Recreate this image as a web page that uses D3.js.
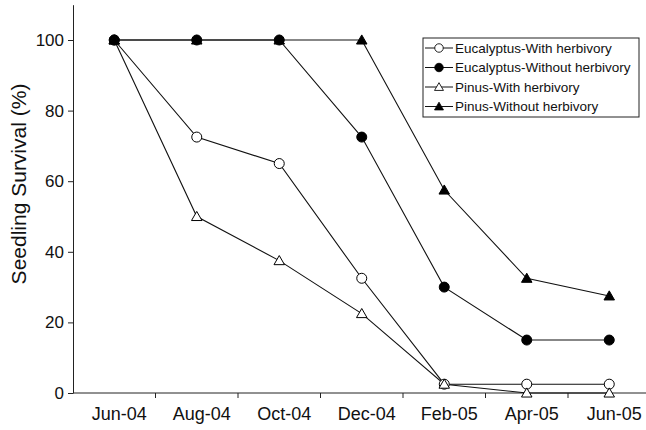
<!DOCTYPE html>
<html>
<head>
<meta charset="utf-8">
<script src="https://cdn.jsdelivr.net/npm/d3@7"></script>
<style>
  body { margin: 0; background: #fff; }
  text { font-family: "Liberation Sans", Arial, sans-serif; fill: #111; }
</style>
</head>
<body>
<div id="chart"></div>
<script>
// data
const months = ['Jun-04', 'Aug-04', 'Oct-04', 'Dec-04', 'Feb-05', 'Apr-05', 'Jun-05'];
const eucWith = [100, 72.5, 65, 32.5, 2.5, 2.5, 2.5];
const eucWithout = [100, 100, 100, 72.5, 30, 15, 15];
const pinWith = [100, 50, 37.5, 22.5, 2.5, 0, 0];
const pinWithout = [100, 100, 100, 100, 57.5, 32.5, 27.5];
const yTicks = [0, 20, 40, 60, 80, 100];

const series = [
    { name: 'Eucalyptus-With herbivory', values: eucWith, shape: 'circle', filled: false },
    { name: 'Eucalyptus-Without herbivory', values: eucWithout, shape: 'circle', filled: true },
    { name: 'Pinus-With herbivory', values: pinWith, shape: 'triangle', filled: false },
    { name: 'Pinus-Without herbivory', values: pinWithout, shape: 'triangle', filled: true }
];

const width = 646, height = 430;
const x0 = 73, yBase = 393, step = 82.5;

const svg = d3.select('#chart').append('svg')
    .attr('width', width)
    .attr('height', height);

const y = d3.scaleLinear().domain([0, 110]).range([yBase, 4.7]);

// one band per month, points at band centres
const x = d3.scaleBand().domain(months).range([x0, x0 + 7 * step]);
const xc = m => x(m) + x.bandwidth() / 2;

// y axis
const yAxis = svg.append('g')
    .attr('transform', `translate(${x0},0)`)
    .call(d3.axisLeft(y).tickValues(yTicks).tickSize(5).tickPadding(4).tickSizeOuter(0));
yAxis.select('.domain').attr('stroke', '#222');
yAxis.selectAll('.tick line').attr('stroke', '#222');
yAxis.selectAll('.tick text').style('font-size', '17px').attr('fill', '#111');

// x axis
const xAxis = svg.append('g')
    .attr('transform', `translate(0,${yBase})`)
    .call(d3.axisBottom(x).tickSize(0).tickPadding(14));
xAxis.select('.domain').remove();
xAxis.selectAll('.tick text')
    .style('font-size', '18px')
    .attr('dx', 5)
    .attr('fill', '#111');
xAxis.append('line')
    .attr('x1', x0).attr('x2', width)
    .attr('stroke', '#222');
xAxis.selectAll('line.tk')
    .data(months.slice(1))
    .enter()
    .append('line')
    .attr('class', 'tk')
    .attr('x1', d => x(d))
    .attr('x2', d => x(d))
    .attr('y1', 0).attr('y2', 5)
    .attr('stroke', '#222');

// y title
svg.append('text')
    .attr('transform', `translate(25.5,184) rotate(-90)`)
    .attr('text-anchor', 'middle')
    .style('font-size', '21px')
    .text('Seedling Survival (%)');

const line = d3.line()
    .x((d, i) => xc(months[i]))
    .y(d => y(d));

const triangle = d3.symbol().type(d3.symbolTriangle).size(48);

function drawMarker(sel, s) {
    if (s.shape === 'circle') {
        sel.append('circle').attr('r', 5);
    } else {
        sel.append('path').attr('d', triangle).attr('transform', 'translate(0,1)');
    }
    sel.selectAll('circle, path')
        .attr('fill', s.filled ? '#000' : '#fff')
        .attr('stroke', '#000')
        .attr('stroke-width', 1);
}

// draw lines
series.forEach(s => {
    svg.append('path')
        .datum(s.values)
        .attr('d', line)
        .attr('fill', 'none')
        .attr('stroke', '#111')
        .attr('stroke-width', 1.1);
});

// draw markers
series.forEach(s => {
    s.values.forEach((v, i) => {
        const g = svg.append('g')
            .attr('transform', `translate(${xc(months[i])},${y(v)})`);
        drawMarker(g, s);
    });
});

// legend
const legend = svg.append('g').attr('transform', 'translate(423,38)');
legend.append('rect')
    .attr('width', 216).attr('height', 79)
    .attr('fill', '#fff')
    .attr('stroke', '#222');

series.forEach((s, i) => {
    const row = legend.append('g').attr('transform', `translate(0,${10 + i * 19.5})`);
    row.append('line')
        .attr('x1', 2).attr('x2', 30)
        .attr('stroke', '#111');
    const m = row.append('g').attr('transform', 'translate(16,0) scale(0.85)');
    drawMarker(m, s);
    row.append('text')
        .attr('x', 32).attr('dy', '0.35em')
        .style('font-size', '13.5px')
        .text(s.name);
});
</script>
</body>
</html>
